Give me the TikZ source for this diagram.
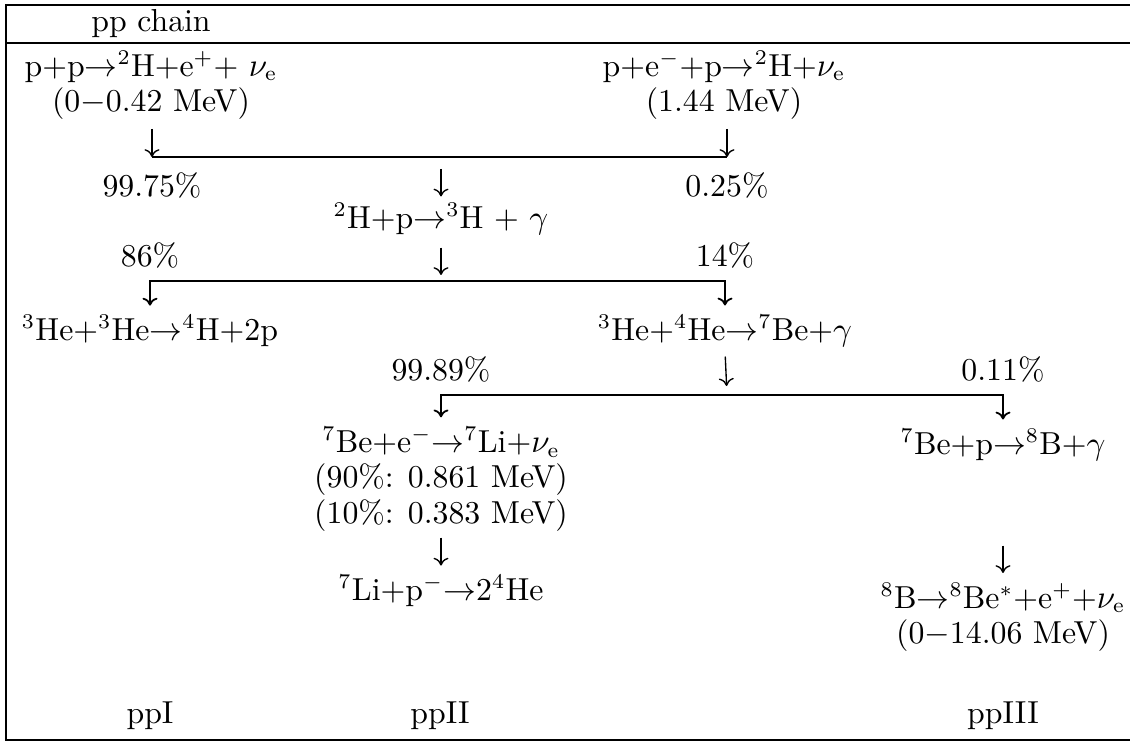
\documentclass[tikz,border=0pt]{standalone}
\usepackage{amsmath}
\usetikzlibrary{arrows.meta,positioning}
\newcommand{\iso}[1]{${}^{#1}$}
\newcommand{\nue}{$\nu_{\mathrm{e}}$}
\newcommand{\ra}{$\rightarrow$}

\begin{document}
\begin{tikzpicture}[x=0.3333pt,y=-0.3333pt,>={To[length=2.6pt,width=5pt]},
  rx/.style={align=center,inner sep=1pt,font=\fontsize{10.6}{11.8}\selectfont},
  frame/.style={line width=0.9pt},
  bar/.style={line width=0.6pt},
  arrow/.style={->,line width=0.45pt}]
  \useasboundingbox (0,0) rectangle (1130,742);
  \draw[frame] (1130,5) -- (6,5) -- (6,740) -- (1130,740);
  \draw[frame] (6,43) -- (1130,43);
  \node[rx] (title) at (151,24) {pp chain};
  \node[rx] (ppone) at (151,85) {p+p\ra\iso{2}H+e$^+$+ \nue\\(0$-$0.42 MeV)};
  \node[rx] (pep) at (724,85) {p+e$^-$+p\ra\iso{2}H+\nue\\(1.44 MeV)};
  \coordinate (b1l) at (152,157);
  \coordinate (b1r) at (727,157);
  \draw[bar] (b1l) -- (b1r);
  \draw[arrow,shorten <=2pt] (ppone.south -| b1l) -- (b1l);
  \draw[arrow,shorten <=2pt] (pep.south -| b1r) -- (b1r);
  \node[rx,below=4pt of b1l] (fa) {99.75\%};
  \node[rx,below=4pt of b1r] (fb) {0.25\%};
  \node[rx] (dp) at (441,219) {\iso{2}H+p\ra\iso{3}H + $\gamma$};
  \draw[arrow,shorten <=4pt,shorten >=1pt] (dp |- b1l) -- (dp.north);
  \coordinate (b2m) at (441,281);
  \draw[arrow,shorten <=3pt,shorten >=2pt] (dp.south) -- (b2m);
  \node[rx] (hehe) at (150,331) {\iso{3}He+\iso{3}He\ra\iso{4}H+2p};
  \node[rx] (hebe) at (725,331) {\iso{3}He+\iso{4}He\ra\iso{7}Be+$\gamma$};
  \draw[bar,<->,shorten <=2pt,shorten >=2pt] (hehe.north) |- (b2m) -| (hebe.north);
  \node[rx,above=3pt of hehe.north |- b2m] (fc) {86\%};
  \node[rx,above=3pt of hebe.north |- b2m] (fd) {14\%};
  \coordinate (b3m) at (727,395);
  \draw[arrow,shorten <=2pt,shorten >=3pt] (hebe.south) -- (b3m);
  \node[rx] (bel) at (441,479) {\iso{7}Be+e$^-$\ra\iso{7}Li+\nue\\(90\%: 0.861 MeV)\\(10\%: 0.383 MeV)};
  \node[rx] (bep) at (1003,445) {\iso{7}Be+p\ra\iso{8}B+$\gamma$};
  \draw[bar,<->,shorten <=2pt,shorten >=2pt] (bel.north) |- (b3m) -| (bep.north);
  \node[rx,above=3pt of bel.north |- b3m] (fe) {99.89\%};
  \node[rx,above=3pt of bep.north |- b3m] (ff) {0.11\%};
  \node[rx] (lip) at (441,591) {\iso{7}Li+p$^-$\ra2\iso{4}He};
  \draw[arrow,shorten <=1pt,shorten >=2pt] (bel.south) -- (lip.north);
  \node[rx] (bdec) at (1003,617) {\iso{8}B\ra\iso{8}Be$^*$+e$^+$+\nue\\(0$-$14.06 MeV)};
  \draw[arrow,shorten <=27pt,shorten >=2pt] (bep.south) -- (bdec.north);
  \node[rx] (ppi) at (150,716) {ppI};
  \node[rx] (ppii) at (440,716) {ppII};
  \node[rx] (ppiii) at (1003,716) {ppIII};
\end{tikzpicture}
\end{document}
